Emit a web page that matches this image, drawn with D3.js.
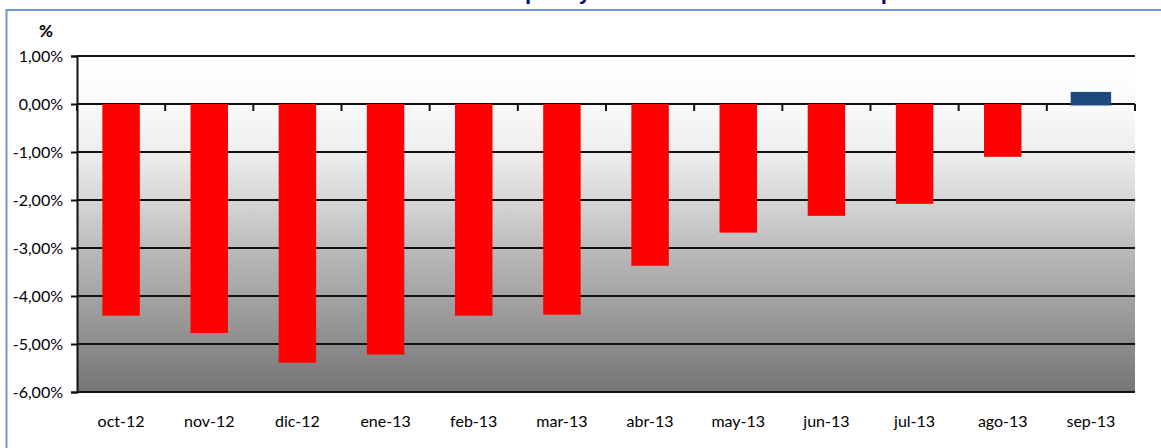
<!DOCTYPE html>
<html>
<head>
<meta charset="utf-8">
<script src="https://cdn.jsdelivr.net/npm/d3@7"></script>
<style>
  body { margin: 0; background: #fff; }
  svg text { font-family: Lato, "Liberation Sans", sans-serif; }
</style>
</head>
<body>
<div id="chart"></div>
<script>
// data
var months = ["oct-12","nov-12","dic-12","ene-13","feb-13","mar-13","abr-13","may-13","jun-13","jul-13","ago-13","sep-13"];
var values = [-4.41, -4.77, -5.39, -5.22, -4.41, -4.39, -3.37, -2.68, -2.33, -2.08, -1.10, 0.22];
var yTicks = [1, 0, -1, -2, -3, -4, -5, -6];
var title = "Tasa de paro y variación interanual del empleo";

var W = 1161, H = 448;
var margin = {top: 56, right: 26, bottom: 56, left: 77};

var svg = d3.select("#chart").append("svg")
    .attr("width", W)
    .attr("height", H);

// outer chart frame (only top/left visible)
svg.append("rect")
    .attr("x", 6.5).attr("y", 10)
    .attr("width", W + 20).attr("height", H + 20)
    .attr("fill", "none")
    .attr("stroke", "#6f98c9")
    .attr("stroke-width", 2);

// title, mostly cut off above the frame
var t = svg.append("text")
    .attr("y", -1)
    .attr("fill", "#0a0a80")
    .style("font-family", "'Liberation Sans', sans-serif")
    .style("font-weight", "bold")
    .style("font-size", "22px")
    .text(title);
var pIdx = title.indexOf("p");
t.attr("x", 525 - t.node().getSubStringLength(0, pIdx));

var x = d3.scaleBand()
    .domain(months)
    .range([margin.left, W - margin.right])
    .paddingInner(0.575)
    .paddingOuter(0.2875);

var xTick = d3.scaleBand()
    .domain(months)
    .range([margin.left, W - margin.right]);

var y = d3.scaleLinear()
    .domain([-6, 1])
    .range([H - margin.bottom, margin.top]);

// plot area gradient
var grad = svg.append("defs").append("linearGradient")
    .attr("id", "bg")
    .attr("x1", 0).attr("y1", 0).attr("x2", 0).attr("y2", 1);
[[0, "#ffffff"], [0.15, "#fafafa"], [0.3, "#ececec"], [0.45, "#d2d2d2"],
 [0.6, "#b6b6b6"], [0.8, "#969696"], [1, "#757575"]].forEach(function(s){
    grad.append("stop").attr("offset", s[0]).attr("stop-color", s[1]);
});

svg.append("rect")
    .attr("x", margin.left)
    .attr("y", y(1))
    .attr("width", W - margin.right - margin.left)
    .attr("height", y(-6) - y(1))
    .attr("fill", "url(#bg)");

// gridlines
svg.append("g").selectAll("line")
    .data(yTicks.filter(function(d){ return d != 0; }))
    .enter().append("line")
    .attr("x1", margin.left).attr("x2", W - margin.right)
    .attr("y1", function(d){ return y(d); })
    .attr("y2", function(d){ return y(d); })
    .attr("stroke", "#111")
    .attr("stroke-width", 2);

// x axis on the zero line
var xAxis = svg.append("g")
    .attr("transform", "translate(0," + y(0) + ")");
xAxis.append("line")
    .attr("x1", margin.left).attr("x2", W - margin.right)
    .attr("stroke", "#111").attr("stroke-width", 2);
xAxis.selectAll(".tk")
    .data(months.concat(["end"]))
    .enter().append("line")
    .attr("class", "tk")
    .attr("x1", function(d, i){ return i < months.length ? xTick(d) : W - margin.right; })
    .attr("x2", function(d, i){ return i < months.length ? xTick(d) : W - margin.right; })
    .attr("y1", 0).attr("y2", 7)
    .attr("stroke", "#111").attr("stroke-width", 2);

// bars
svg.append("g").selectAll("rect")
    .data(values)
    .enter().append("rect")
    .attr("x", function(d, i){ return x(months[i]); })
    .attr("width", x.bandwidth())
    .attr("y", function(d){ return y(Math.max(0, d)); })
    .attr("height", function(d){ return Math.abs(y(d) - y(0)); })
    .attr("fill", function(d){ return d < 0 ? "#ff0000" : "#1f497d"; })
    .attr("stroke", function(d){ return d < 0 ? "none" : "#1f497d"; })
    .attr("stroke-width", 3);

// x labels at the bottom
svg.append("g").selectAll("text")
    .data(months)
    .enter().append("text")
    .attr("x", function(d){ return xTick(d) + xTick.bandwidth() / 2; })
    .attr("y", H - 21)
    .attr("text-anchor", "middle")
    .style("font-size", "16px")
    .attr("fill", "#000")
    .text(function(d){ return d; });

// y axis
var fmt = function(d){ return d.toFixed(2).replace(".", ",") + "%"; };
var yAxis = svg.append("g")
    .attr("transform", "translate(" + margin.left + ",0)")
    .call(d3.axisLeft(y).tickValues(yTicks).tickSize(6).tickPadding(8).tickFormat(fmt));
yAxis.select(".domain").attr("stroke", "#111").attr("stroke-width", 2);
yAxis.selectAll(".tick line").attr("stroke", "#111").attr("stroke-width", 2);
yAxis.selectAll(".tick text")
    .style("font-family", "Lato, sans-serif")
    .style("font-size", "16px")
    .attr("fill", "#000");

svg.append("text")
    .attr("x", 46).attr("y", 37)
    .attr("text-anchor", "middle")
    .style("font-weight", "bold")
    .style("font-size", "17px")
    .text("%");
</script>
</body>
</html>
